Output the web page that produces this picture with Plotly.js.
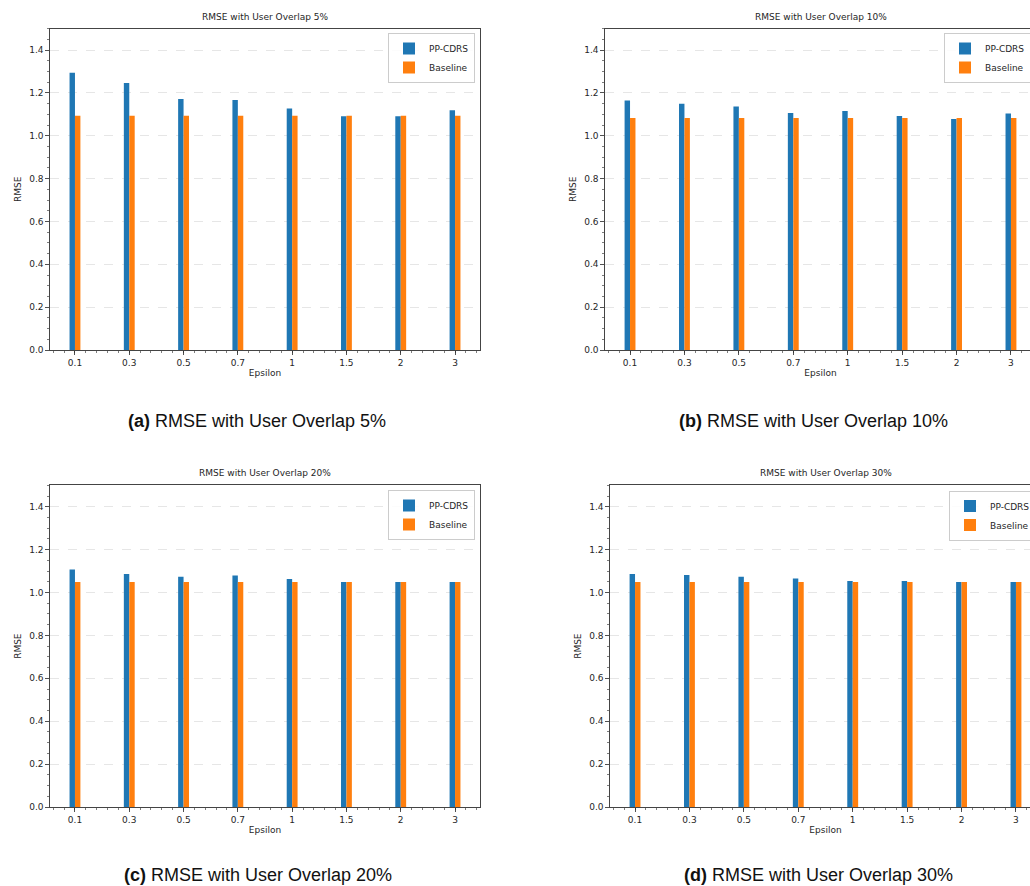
<!DOCTYPE html>
<html>
<head>
<meta charset="utf-8">
<script src="https://cdn.plot.ly/plotly-3.0.1.min.js"></script>
<style>
  html, body { margin: 0; padding: 0; overflow: hidden; background: #fff; }
  #chart { width: 1050px; height: 886px; }
</style>
</head>
<body>
<div id="chart"></div>
<script>
// Privacy budget values on the x axis
const epsilonLabels = ['0.1', '0.3', '0.5', '0.7', '1', '1.5', '2', '3'];

// RMSE per epsilon, one pair of series per user-overlap level
const ppcdrs5 = [1.294, 1.247, 1.172, 1.167, 1.128, 1.091, 1.091, 1.119];
const baseline5 = [1.094, 1.094, 1.094, 1.094, 1.094, 1.094, 1.094, 1.094];

const ppcdrs10 = [1.165, 1.150, 1.137, 1.107, 1.116, 1.093, 1.079, 1.104];
const baseline10 = [1.083, 1.083, 1.083, 1.083, 1.083, 1.083, 1.083, 1.083];

const ppcdrs20 = [1.107, 1.086, 1.074, 1.079, 1.063, 1.049, 1.049, 1.049];
const baseline20 = [1.049, 1.049, 1.049, 1.049, 1.049, 1.049, 1.049, 1.049];

const ppcdrs30 = [1.086, 1.082, 1.074, 1.066, 1.054, 1.054, 1.049, 1.049];
const baseline30 = [1.049, 1.049, 1.049, 1.049, 1.049, 1.049, 1.049, 1.049];

const overlapTitles = ['RMSE with User Overlap 5%', 'RMSE with User Overlap 10%',
                       'RMSE with User Overlap 20%', 'RMSE with User Overlap 30%'];
const captionTags = ['(a)', '(b)', '(c)', '(d)'];

const seriesSets = [
  [ppcdrs5, baseline5],
  [ppcdrs10, baseline10],
  [ppcdrs20, baseline20],
  [ppcdrs30, baseline30]
];

const W = 1050, H = 886;
const BLUE = '#1f77b4', ORANGE = '#ff7f0e';
const TXT = '#262626';
const FONT = 'DejaVu Sans, sans-serif';

// Panel frames in pixels: left, right, top, bottom
const frames = [
  {l: 50,  r: 480,  t: 28.7,  b: 350},
  {l: 605, r: 1036, t: 28.7,  b: 350},
  {l: 50,  r: 480,  t: 485.3, b: 807},
  {l: 610, r: 1041, t: 485.3, b: 807}
];
const legendTops = [33, 33, 490, 490.5];
const captionPos = [
  {x: 256.5, y: 421},
  {x: 813,   y: 421},
  {x: 258,   y: 875},
  {x: 818,   y: 875}
];

const px = v => v / W;
const py = v => 1 - v / H;
const xIdx = epsilonLabels.map((_, i) => i);

const traces = [];
const layout = {
  width: W, height: H,
  margin: {l: 0, r: 0, t: 0, b: 0},
  paper_bgcolor: '#fff', plot_bgcolor: '#fff',
  barmode: 'overlay',
  font: {family: FONT, size: 9, color: TXT},
  annotations: [],
  showlegend: true
};

seriesSets.forEach((pair, k) => {
  const n = k === 0 ? '' : String(k + 1);
  const xa = 'x' + n, ya = 'y' + n;
  const legendId = 'legend' + n;
  const f = frames[k];

  traces.push({
    type: 'bar', name: 'PP-CDRS', x: xIdx, y: pair[0],
    xaxis: xa, yaxis: ya, offset: -0.1, width: 0.1,
    marker: {color: BLUE, line: {width: 0}},
    legend: legendId, hoverinfo: 'y'
  });
  traces.push({
    type: 'bar', name: 'Baseline', x: xIdx, y: pair[1],
    xaxis: xa, yaxis: ya, offset: 0, width: 0.1,
    marker: {color: ORANGE, line: {width: 0}},
    legend: legendId, hoverinfo: 'y'
  });

  layout['xaxis' + n] = {
    domain: [px(f.l), px(f.r)], anchor: ya,
    type: 'linear', range: [-0.46, 7.46],
    tickmode: 'array', tickvals: xIdx, ticktext: epsilonLabels,
    ticks: 'outside', ticklen: 3.5, tickwidth: 0.8, tickcolor: TXT,
    minor: {tickmode: 'linear', tick0: 0, dtick: 0.2, ticks: 'outside',
            ticklen: 2, tickwidth: 0.6, tickcolor: TXT, showgrid: false},
    showline: true, linecolor: '#444', linewidth: 1.2, mirror: true,
    showgrid: false, zeroline: false,
    tickfont: {family: FONT, size: 9, color: TXT},
    title: {text: 'Epsilon', standoff: 3, font: {family: FONT, size: 9, color: TXT}},
    fixedrange: true
  };
  layout['yaxis' + n] = {
    domain: [py(f.b), py(f.t)], anchor: xa,
    range: [0, 1.5], dtick: 0.2, tick0: 0, tickformat: '.1f',
    ticks: 'outside', ticklen: 3.5, tickwidth: 0.8, tickcolor: TXT,
    minor: {tickmode: 'linear', tick0: 0, dtick: 0.05, ticks: 'outside',
            ticklen: 2, tickwidth: 0.6, tickcolor: TXT, showgrid: false},
    showline: true, linecolor: '#444', linewidth: 1.2, mirror: true,
    showgrid: true, gridcolor: '#dcdcdc', gridwidth: 0.7, griddash: 'dash',
    zeroline: false,
    tickfont: {family: FONT, size: 9, color: TXT},
    title: {text: 'RMSE', standoff: 6, font: {family: FONT, size: 9, color: TXT}},
    fixedrange: true
  };

  layout[legendId] = {
    x: px(f.r - 5), y: py(legendTops[k]), xanchor: 'right', yanchor: 'top',
    bgcolor: 'rgba(255,255,255,0.85)', bordercolor: '#cccccc', borderwidth: 1,
    font: {family: FONT, size: 9, color: TXT},
    itemwidth: 30, tracegroupgap: 0
  };

  // subplot heading
  layout.annotations.push({
    text: overlapTitles[k], xref: 'paper', yref: 'paper',
    x: px((f.l + f.r) / 2), y: py(f.t - 5), xanchor: 'center', yanchor: 'bottom',
    showarrow: false, font: {family: FONT, size: 9, color: TXT}
  });
  // figure caption below each panel
  layout.annotations.push({
    text: '<b>' + captionTags[k] + '</b> ' + overlapTitles[k],
    xref: 'paper', yref: 'paper',
    x: px(captionPos[k].x), y: py(captionPos[k].y), xanchor: 'center', yanchor: 'middle',
    showarrow: false, font: {family: 'Liberation Sans, Arial, sans-serif', size: 18, color: '#111'}
  });
});

Plotly.newPlot('chart', traces, layout, {displayModeBar: false, staticPlot: true});
</script>
</body>
</html>
